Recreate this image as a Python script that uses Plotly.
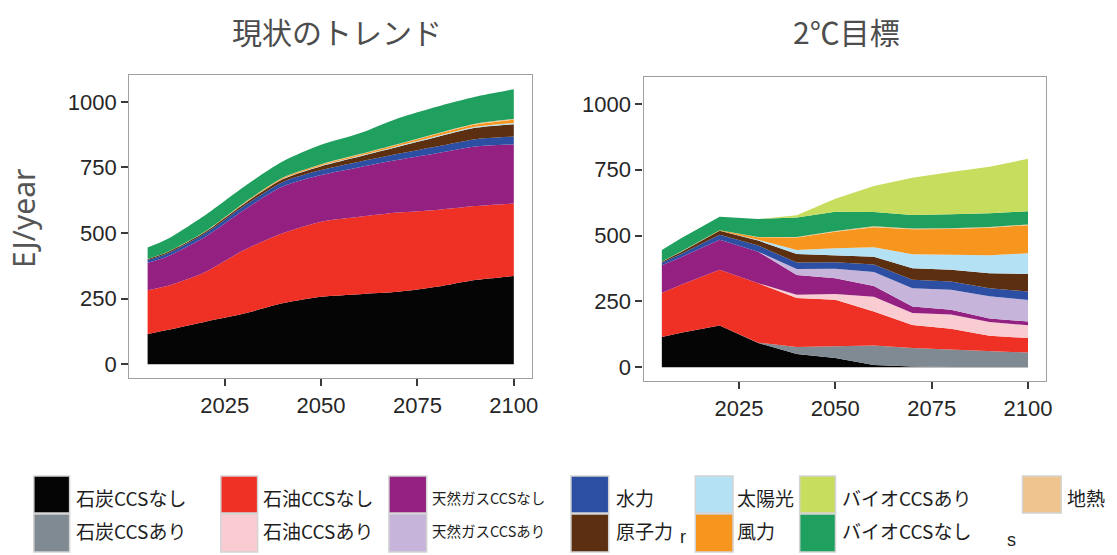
import plotly.graph_objects as go

W, H = 1117, 555

YEARS = [2005, 2010, 2020, 2030, 2040, 2050, 2060, 2070, 2080, 2090, 2100]
X_TICKS = [2025, 2050, 2075, 2100]
Y_TICKS = [0, 250, 500, 750, 1000]

# Stacking order, bottom to top
SOURCES = ["coal", "coal_ccs", "oil", "oil_ccs", "gas", "gas_ccs", "hydro",
           "nuclear", "solar", "wind", "geo", "bio", "bio_ccs"]

LABELS = {
    "coal": "石炭CCSなし", "coal_ccs": "石炭CCSあり",
    "oil": "石油CCSなし", "oil_ccs": "石油CCSあり",
    "gas": "天然ガスCCSなし", "gas_ccs": "天然ガスCCSあり",
    "hydro": "水力", "nuclear": "原子力",
    "solar": "太陽光", "wind": "風力",
    "bio_ccs": "バイオCCSあり", "bio": "バイオCCSなし",
    "geo": "地熱",
}

COLORS = {
    "coal": "#050505", "coal_ccs": "#7f8a92",
    "oil": "#ee3124", "oil_ccs": "#f8ccd0",
    "gas": "#942182", "gas_ccs": "#c6b4da",
    "hydro": "#2d4fa3", "nuclear": "#5b2f10",
    "solar": "#b4e1f3", "wind": "#f7961f",
    "geo": "#efc48e", "bio": "#20a05e", "bio_ccs": "#c7dd5e",
}

# Primary energy (EJ/year), current-trend scenario
BASE_COAL = [115, 130, 162, 193, 232, 257, 267, 276, 295, 321, 336]
BASE_COAL_CCS = [0] * 11
BASE_OIL = [167, 168, 190, 242, 267, 286, 295, 302, 293, 282, 277]
BASE_OIL_CCS = [0] * 11
BASE_GAS = [105, 112, 134, 153, 178, 178, 189, 201, 216, 227, 225]
BASE_GAS_CCS = [0] * 11
BASE_HYDRO = [10, 11, 13, 15, 17, 19, 21, 23, 26, 28, 30]
BASE_NUCLEAR = [4, 5, 6, 8, 11, 15, 20, 27, 36, 43, 47]
BASE_SOLAR = [0.1, 0.2, 0.5, 1, 1.5, 2, 2.5, 3, 3.5, 4, 5]
BASE_WIND = [0.3, 0.5, 1, 2, 3, 4, 5, 6, 8, 9, 12]
BASE_GEO = [0.5, 0.5, 0.6, 0.8, 1, 1.2, 1.5, 1.8, 2.2, 2.6, 3]
BASE_BIO = [43, 49, 62, 62, 62, 74, 79, 98, 102, 103, 113]
BASE_BIO_CCS = [0] * 11

# Primary energy (EJ/year), 2 degree scenario
TWO_COAL = [115, 131, 158, 92, 50, 35, 8, 3, 1, 0.5, 0.5]
TWO_COAL_CCS = [0, 0, 0, 1, 27, 45, 74, 70, 66, 60, 55]
TWO_OIL = [167, 182, 212, 226, 186, 176, 130, 87, 79, 59, 55]
TWO_OIL_CCS = [0, 0, 0, 0, 12, 22, 56, 46, 54, 52, 49]
TWO_GAS = [105, 105, 114, 120, 75, 60, 40, 25, 18, 13, 14]
TWO_GAS_CCS = [0, 0, 0, 0, 23, 36, 54, 69, 76, 85, 82]
TWO_HYDRO = [10, 12, 19, 23, 25, 25, 28, 32, 32, 30, 32]
TWO_NUCLEAR = [4, 8, 15, 19, 32, 25, 30, 44, 44, 57, 67]
TWO_SOLAR = [0.1, 0.2, 0.5, 3, 15, 28, 36, 53, 57, 69, 78]
TWO_WIND = [0.3, 0.5, 1.5, 10, 48, 63, 76, 95, 98, 104, 107]
TWO_GEO = [0.5, 0.5, 0.6, 1, 2, 2, 3, 3, 3, 3, 3]
TWO_BIO = [43, 51, 51, 68, 74, 74, 55, 51, 53, 52, 50]
TWO_BIO_CCS = [0, 0, 0, 0, 8, 49, 98, 142, 161, 177, 199]

BASE = dict(zip(SOURCES, [BASE_COAL, BASE_COAL_CCS, BASE_OIL, BASE_OIL_CCS,
                          BASE_GAS, BASE_GAS_CCS, BASE_HYDRO, BASE_NUCLEAR,
                          BASE_SOLAR, BASE_WIND, BASE_GEO, BASE_BIO,
                          BASE_BIO_CCS]))
TWO = dict(zip(SOURCES, [TWO_COAL, TWO_COAL_CCS, TWO_OIL, TWO_OIL_CCS,
                         TWO_GAS, TWO_GAS_CCS, TWO_HYDRO, TWO_NUCLEAR,
                         TWO_SOLAR, TWO_WIND, TWO_GEO, TWO_BIO, TWO_BIO_CCS]))

TITLES = ["現状のトレンド", "2℃目標"]
Y_TITLE = "EJ/year"

# Legend columns (two rows each, filled column by column)
LEGEND_COLS = [["coal", "coal_ccs"], ["oil", "oil_ccs"], ["gas", "gas_ccs"],
               ["hydro", "nuclear"], ["solar", "wind"], ["bio_ccs", "bio"],
               ["geo"]]


def px(x):
    return x / W


def py(y):
    return 1 - y / H


fig = go.Figure()


def add_stack(data, xa, ya, group, shape):
    for s in SOURCES:
        vals = data[s]
        if not any(vals):
            continue
        fig.add_trace(go.Scatter(
            x=YEARS, y=vals, stackgroup=group, mode="lines",
            line=dict(width=0, shape=shape, smoothing=0.7),
            fillcolor=COLORS[s], xaxis=xa, yaxis=ya,
            name=LABELS[s], showlegend=False, hoverinfo="x+y+name"))


add_stack(BASE, "x", "y", "base", "spline")
add_stack(TWO, "x2", "y2", "two", "linear")

tick_font = dict(family="Liberation Sans, Arial, sans-serif", size=22,
                 color="#262626")
xcommon = dict(range=[2000.25, 2104.75], tickvals=X_TICKS, ticks="outside",
               ticklen=7, tickwidth=2, tickcolor="#3a3a3a", showline=True,
               mirror=True, linecolor="#a0a0a0", linewidth=1.2,
               showgrid=False, zeroline=False, tickfont=tick_font)
ycommon = dict(range=[-52.5, 1102.5], tickvals=Y_TICKS, ticks="outside",
               ticklen=7, tickwidth=2, tickcolor="#3a3a3a", showline=True,
               mirror=True, linecolor="#a0a0a0", linewidth=1.2,
               showgrid=False, zeroline=False, tickfont=tick_font)

fig.update_layout(
    width=W, height=H, margin=dict(l=0, r=0, t=0, b=0),
    paper_bgcolor="white", plot_bgcolor="white", showlegend=False,
    xaxis=dict(domain=[px(130), px(535)], anchor="y", **xcommon),
    yaxis=dict(domain=[py(378), py(75)], anchor="x", **ycommon),
    xaxis2=dict(domain=[px(647), px(1052)], anchor="y2", **xcommon),
    yaxis2=dict(domain=[py(381), py(77)], anchor="x2", **ycommon),
)

cjk = "Noto Sans CJK JP, Noto Sans, sans-serif"
annotations = []
shapes = []

for title, cx in zip(TITLES, [339, 851]):
    annotations.append(dict(
        text=title, x=px(cx), y=py(31), xref="paper", yref="paper",
        showarrow=False, xanchor="center", yanchor="middle",
        font=dict(family=cjk, size=30, color="#4d4d4d")))

annotations.append(dict(
    text=Y_TITLE, x=px(23), y=py(218), xref="paper", yref="paper",
    showarrow=False, textangle=-90, xanchor="center", yanchor="middle",
    font=dict(family="Noto Sans, sans-serif", size=30, color="#555555")))

# Legend: swatch left edge, swatch right edge, label left edge
col_pos = [(34, 70, 74), (222, 259, 262), (391, 429, 432), (574, 612, 617),
           (699, 737, 739), (804, 840, 845), (1028, 1067, 1071)]
row_y = [(476, 513, 497), (514, 552, 530)]

for col, (x0, x1, tx) in zip(LEGEND_COLS, col_pos):
    for r, key in enumerate(col):
        y0, y1, ty = row_y[r]
        shapes.append(dict(
            type="rect", xref="paper", yref="paper",
            x0=px(x0), x1=px(x1), y0=py(y1), y1=py(y0),
            fillcolor=COLORS[key], line=dict(color="#d4d4d4", width=1.5)))
        size = 14.5 if key.startswith("gas") else 19
        annotations.append(dict(
            text=LABELS[key], x=px(tx), y=py(ty), xref="paper", yref="paper",
            showarrow=False, xanchor="left", yanchor="middle",
            font=dict(family=cjk, size=size, color="#1e1e1e")))

for ch, cx, cy in [("r", 687, 537), ("s", 1017, 540)]:
    annotations.append(dict(
        text=ch, x=px(cx), y=py(cy), xref="paper", yref="paper",
        showarrow=False, xanchor="center", yanchor="middle",
        font=dict(family="Liberation Sans, Arial, sans-serif", size=18,
                  color="#1e1e1e")))

fig.update_layout(annotations=annotations, shapes=shapes)

fig.write_html("out.html")
